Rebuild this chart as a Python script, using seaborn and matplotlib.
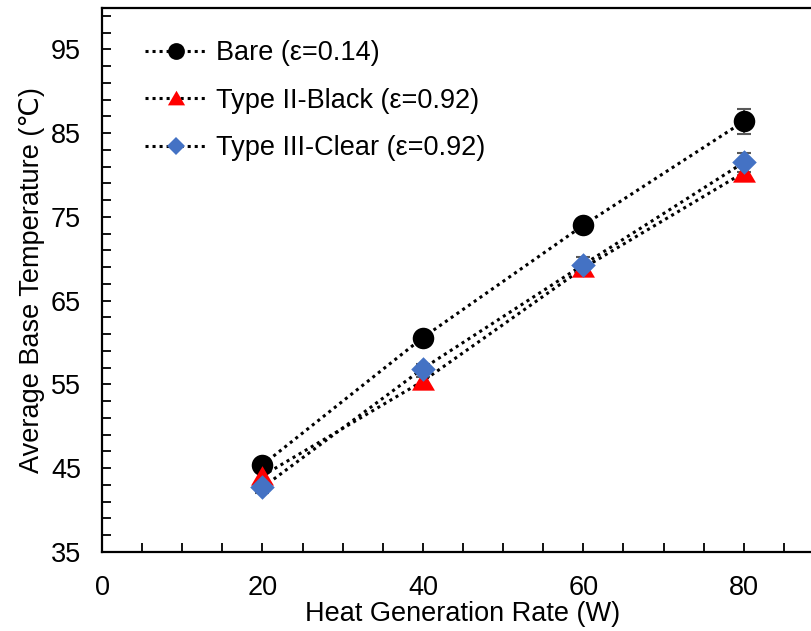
import numpy as np
import pandas as pd
import matplotlib
matplotlib.use("Agg")
import matplotlib.pyplot as plt
from matplotlib.ticker import MultipleLocator, FixedLocator
import seaborn as sns

# ---- data ----
power_w = [20, 40, 60, 80]
bare_temp = [45.4, 60.6, 74.0, 86.4]
black_temp = [44.1, 55.4, 68.9, 80.3]
clear_temp = [42.7, 56.9, 69.3, 81.5]
bare_err = [0.6, 0.4, 0.5, 1.5]
black_err = [0.6, 0.5, 0.6, 0.7]
clear_err = [0.6, 0.5, 0.9, 1.1]
labels = ["Bare (\u03b5=0.14)", "Type II-Black (\u03b5=0.92)", "Type III-Clear (\u03b5=0.92)"]
x_ticks = [0, 20, 40, 60, 80]
y_ticks = [35, 45, 55, 65, 75, 85, 95]

sns.set_style("white")
plt.rcParams['font.family'] = ['Liberation Sans', 'DejaVu Sans']
plt.rcParams['text.color'] = 'black'
plt.rcParams['axes.labelcolor'] = 'black'
plt.rcParams['xtick.color'] = 'black'
plt.rcParams['ytick.color'] = 'black'

FS = 19.5

fig = plt.figure(figsize=(8.12, 6.31), dpi=100)
ax = fig.add_axes([102 / 812, 79 / 631, (824 - 102) / 812, (552 - 7.5) / 631])

tri = [(-1, -0.8), (1, -0.8), (0, 0.9)]
series = [
    (bare_temp, bare_err, "o", "black", 15.5, 0.78),
    (black_temp, black_err, tri, "#FF0000", 16.5, 0.75),
    (clear_temp, clear_err, "D", "#4472C4", 12.5, 0.75),
]

handles = []
for temps, errs, mk, col, ms, lscale in series:
    df = pd.DataFrame({"x": power_w, "y": temps})
    ax.errorbar(power_w, temps, yerr=errs, fmt="none", ecolor="#595959",
                elinewidth=1.5, capsize=5, capthick=1.5, zorder=2)
    sns.lineplot(data=df, x="x", y="y", ax=ax, color="black",
                 linestyle=(0, (1, 1.3)), linewidth=2.2, marker=None,
                 zorder=3, legend=False)
    sns.scatterplot(data=df, x="x", y="y", ax=ax, marker=mk, color=col,
                    s=ms ** 2, linewidth=0, zorder=4, legend=False)
    h, = ax.plot([], [], color="black", linestyle=(0, (1, 1.3)), linewidth=2.2,
                 marker=mk, markersize=ms * lscale, markerfacecolor=col,
                 markeredgecolor=col, markeredgewidth=0)
    handles.append(h)

ax.set_xlim(0, 90)
ax.set_ylim(35, 100)
ax.xaxis.set_major_locator(FixedLocator(x_ticks))
ax.yaxis.set_major_locator(FixedLocator(y_ticks))
ax.xaxis.set_minor_locator(MultipleLocator(5))
ax.yaxis.set_minor_locator(FixedLocator(np.arange(37, 100, 2)))

ax.tick_params(axis="both", which="both", direction="in", color="black",
               width=1.3, labelsize=FS, labelcolor="black",
               bottom=True, left=True, top=False, right=False, length=6.5)
ax.tick_params(axis="x", which="major", pad=16.5)
ax.tick_params(axis="y", which="major", pad=15)

for sp in ax.spines.values():
    sp.set_visible(True)
    sp.set_color("black")
    sp.set_linewidth(1.6)

ax.set_xlabel("Heat Generation Rate (W)", fontsize=FS, color="black", labelpad=0)
ax.set_ylabel("Average Base Temperature (\u2103)", fontsize=FS, color="black", labelpad=4)

leg = ax.legend(handles=handles, labels=labels, loc="upper left",
                bbox_to_anchor=(0.045, 0.96), frameon=False, fontsize=FS,
                handlelength=2.3, handletextpad=0.3, labelspacing=0.8,
                borderaxespad=0)
for t in leg.get_texts():
    t.set_color("black")

fig.savefig("out.png", dpi=100)
